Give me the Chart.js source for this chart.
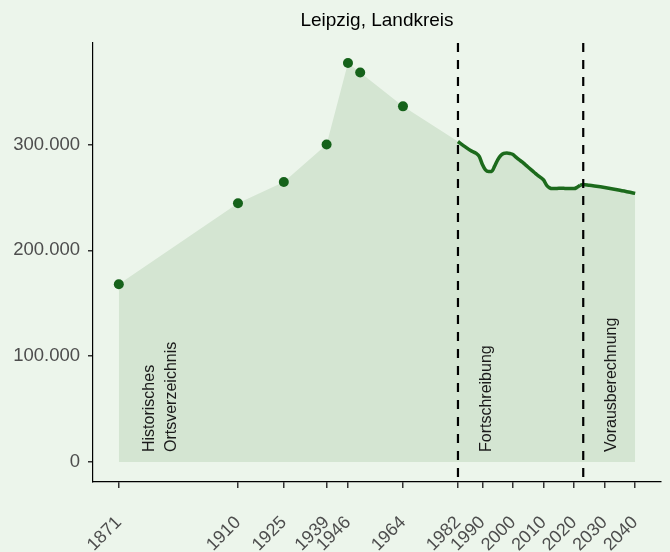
<!DOCTYPE html>
<html>
<head>
<meta charset="utf-8">
<script src="https://cdn.jsdelivr.net/npm/chart.js@4.4.1/dist/chart.umd.min.js"></script>
<style>
  html, body { margin: 0; padding: 0; background: #ecf5eb; }
  #chart { display: block; }
</style>
</head>
<body>
<canvas id="chart" width="670" height="552"></canvas>
<script>
const chartTitle = "Leipzig, Landkreis";

// Historisches Ortsverzeichnis (points)
const histYears = [1871, 1910, 1925, 1939, 1946, 1950, 1964];
const histValues = [168000, 244500, 264500, 300000, 377000, 368000, 336000];

// Fortschreibung (line)
const fortYears = [1982, 1984, 1986, 1988, 1989, 1990, 1991, 1992, 1993, 1994, 1995, 1996, 1997, 1998, 1999, 2000,
  2001, 2002, 2003, 2004, 2005, 2006, 2007, 2008, 2009, 2010, 2011, 2012, 2013, 2014, 2015, 2016, 2017, 2018,
  2019, 2020, 2021, 2022];
const fortValues = [302800, 298500, 294500, 291500, 288500, 281000, 276000, 274500, 274500, 279500, 285500, 289500,
  291500, 292000, 291500, 290500, 288000, 285600, 283500, 281000, 278500, 276000, 273500, 271000, 269000, 266500,
  261500, 259000, 258300, 258400, 258600, 258600, 258500, 258400, 258300, 258300, 259500, 261500];

// Vorausberechnung (line)
const projYears = [2022, 2023, 2025, 2030, 2035, 2040];
const projValues = [261500, 262200, 261400, 259400, 256800, 253800];

const xTicks = [1871, 1910, 1925, 1939, 1946, 1964, 1982, 1990, 2000, 2010, 2020, 2030, 2040];
const yTicks = [0, 100000, 200000, 300000];

const phaseBreaks = [1982, 2023];
const phaseLabels = [
  { year: 1881, text: "Historisches" },
  { year: 1888.4, text: "Ortsverzeichnis" },
  { year: 1991.4, text: "Fortschreibung" },
  { year: 2032.3, text: "Vorausberechnung" }
];

const toXY = (xs, ys) => xs.map((x, i) => ({ x: x, y: ys[i] }));
const allPoints = toXY(histYears, histValues).concat(toXY(fortYears, fortValues), toXY(projYears.slice(1), projValues.slice(1)));

function fmtDE(v) {
  return String(v).replace(/\B(?=(\d{3})+(?!\d))/g, ".");
}

const green = "#1c6a1c";
const textColor = "#4d4d4d";

// dashed separators, phase labels and title
const overlay = {
  id: "overlay",
  afterDatasetsDraw(chart) {
    const { ctx, chartArea, scales } = chart;
    ctx.save();
    ctx.strokeStyle = "#000";
    ctx.lineWidth = 2.2;
    ctx.setLineDash([9, 8]);
    phaseBreaks.forEach((yr) => {
      const px = scales.x.getPixelForValue(yr);
      ctx.beginPath();
      ctx.moveTo(px, chartArea.top);
      ctx.lineTo(px, chartArea.bottom);
      ctx.stroke();
    });
    ctx.setLineDash([]);
    ctx.fillStyle = "#1a1a1a";
    ctx.font = "16px 'Liberation Sans', Arial, sans-serif";
    ctx.textAlign = "left";
    ctx.textBaseline = "middle";
    phaseLabels.forEach((lab) => {
      const px = scales.x.getPixelForValue(lab.year);
      ctx.save();
      ctx.translate(px, 452);
      ctx.rotate(-Math.PI / 2);
      ctx.fillText(lab.text, 0, 0);
      ctx.restore();
    });
    ctx.restore();
  },
  afterDraw(chart) {
    const { ctx, chartArea } = chart;
    ctx.save();
    ctx.fillStyle = "#000";
    ctx.font = "19px 'Liberation Sans', Arial, sans-serif";
    ctx.textAlign = "center";
    ctx.textBaseline = "middle";
    ctx.fillText(chartTitle, (chartArea.left + chartArea.right) / 2, 21);
    ctx.restore();
  }
};

const ctx = document.getElementById("chart").getContext("2d");

new Chart(ctx, {
  type: "line",
  data: {
    datasets: [
      {
        label: "Fläche",
        data: allPoints,
        fill: "origin",
        backgroundColor: "#d4e5d2",
        borderWidth: 0,
        pointRadius: 0,
        order: 4
      },
      {
        label: "Fortschreibung",
        data: toXY(fortYears, fortValues),
        borderColor: green,
        borderWidth: 3.5,
        pointRadius: 0,
        cubicInterpolationMode: "monotone",
        fill: false,
        order: 2
      },
      {
        label: "Vorausberechnung",
        data: toXY(projYears, projValues),
        borderColor: green,
        borderWidth: 3.5,
        pointRadius: 0,
        cubicInterpolationMode: "monotone",
        fill: false,
        order: 2
      },
      {
        label: "Historisches Ortsverzeichnis",
        data: toXY(histYears, histValues),
        showLine: false,
        pointRadius: 5,
        pointBackgroundColor: "#15621a",
        pointBorderColor: "#15621a",
        pointBorderWidth: 0,
        order: 1
      }
    ]
  },
  options: {
    responsive: false,
    animation: false,
    layout: { padding: { top: 43, right: 9, left: 0, bottom: 0 } },
    plugins: {
      legend: { display: false },
      tooltip: { enabled: false },
      title: { display: false }
    },
    scales: {
      x: {
        type: "linear",
        min: 1862.55,
        max: 2048.45,
        afterBuildTicks: (scale) => { scale.ticks = xTicks.map((v) => ({ value: v })); },
        afterFit: (scale) => {
          scale.height = 70;
          scale.paddingLeft = 0;
          scale.paddingRight = 0;
        },
        grid: { drawOnChartArea: false, drawTicks: true, tickLength: 6, color: "#333", lineWidth: 1.5 },
        border: { display: true, color: "#000", width: 1.2 },
        ticks: {
          autoSkip: false,
          minRotation: 45,
          maxRotation: 45,
          padding: 24,
          color: textColor,
          font: { family: "'Liberation Sans', Arial, sans-serif", size: 18 },
          callback: (v) => String(v)
        }
      },
      y: {
        type: "linear",
        min: -18850,
        max: 395850,
        afterBuildTicks: (scale) => { scale.ticks = yTicks.map((v) => ({ value: v })); },
        afterFit: (scale) => {
          scale.width = 93;
          scale.paddingTop = 0;
          scale.paddingBottom = 0;
        },
        grid: { drawOnChartArea: false, drawTicks: true, tickLength: 5, color: "#333", lineWidth: 1.5 },
        border: { display: true, color: "#000", width: 1.2 },
        ticks: {
          padding: 8,
          color: textColor,
          font: { family: "'Liberation Sans', Arial, sans-serif", size: 18.5 },
          callback: (v) => fmtDE(v)
        }
      }
    }
  },
  plugins: [overlay]
});
</script>
</body>
</html>
